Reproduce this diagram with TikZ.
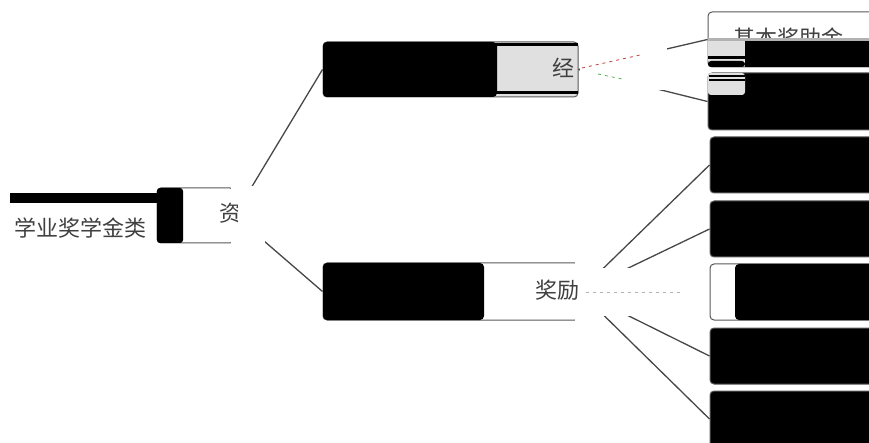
\documentclass[tikz,border=0pt]{standalone}
\usepackage{fontspec}
\newfontfamily\cjk{Noto Sans CJK SC}
\begin{document}
\begin{tikzpicture}[x=1pt,y=-1pt,font=\cjk\fontsize{22}{26}\selectfont]
\tikzset{
  box/.style={draw=gray!70!black, line width=1pt, rounded corners=4pt, fill=white, inner sep=0pt},
  link/.style={draw=black!72, line width=1.3pt},
  txt/.style={text=black!75, inner sep=0pt},
  glitch/.style={draw=red!50!gray, line width=0.8pt, dash pattern=on 3pt off 4pt},
}
\useasboundingbox (0,0) rectangle (869,443);
\clip (0,0) rectangle (869,443);
% nodes (named boxes)
\node[box, minimum width=77pt, minimum height=55pt] (zi) at (195.5,215.5) {};
\node[box, fill=black!12, minimum width=255pt, minimum height=55pt] (c1) at (450.5,69.5) {};
\node[box, minimum width=256pt, minimum height=57pt] (c2) at (451,291.5) {};
\node[box, minimum width=200pt, minimum height=55pt] (a1) at (808,39.5) {};
\node[box, fill=black, minimum width=200pt, minimum height=57pt] (b1) at (808,101.5) {};
\node[box, fill=black, minimum width=200pt, minimum height=56pt] (r1) at (810,165) {};
\node[box, fill=black, minimum width=200pt, minimum height=56pt] (r2) at (810,229) {};
\node[box, minimum width=200pt, minimum height=56pt] (r3) at (810,292) {};
\node[box, fill=black, minimum width=200pt, minimum height=56pt] (r4) at (810,356) {};
\node[box, fill=black, minimum width=200pt, minimum height=56pt] (r5) at (810,419) {};
% connectors
\draw[link] (zi.east) -- (c1.west);
\draw[link] (zi.east) -- (c2.west);
\draw[link] (c1.east) -- (a1.west);
\draw[link] (c1.east) -- (b1.west);
\draw[link] (c2.east) -- (r1.west);
\draw[link] (c2.east) -- (r2.west);
\draw[link] (c2.east) -- (r4.west);
\draw[link] (c2.east) -- (r5.west);
% erased parts
\fill[white] (231,186) rectangle (265,245);
\fill[white] (579.5,47) rectangle (667,90);
\fill[white] (575,268) rectangle (700,316);
\fill[white] (575,262) rectangle (600,321);
\draw[glitch] (582,68) -- (640,55);
\draw[glitch, draw=green!40!gray] (598,74) -- (622,79);
\draw[glitch, draw=gray!60] (586,292) -- (680,292);
% root area
\fill[black] (10,193) rectangle (160,203);
\fill[black, rounded corners=3pt] (157,188) rectangle (183,243);
\node[txt, anchor=center] (root) at (80,228) {学业奖学金类};
\begin{scope}
  \clip (200,190) rectangle (237,240);
  \node[txt] (zit) at (230,213) {资};
\end{scope}
% c1 overlays
\fill[black, rounded corners=4pt] (323,42) rectangle (497,97);
\fill[black] (495,43) rectangle (578,46);
\fill[black] (495,91) rectangle (578,94);
\begin{scope}
  \clip (540,50) rectangle (578,85);
  \node[txt] (jt) at (563,68) {经};
\end{scope}
% c2 overlay
\fill[black, rounded corners=4pt] (323,263) rectangle (484,320);
\node[txt] (jl) at (557,290) {奖励};
% a1 overlays
\node[txt, anchor=west] (a1t) at (733,38) {基本奖助金...};
\fill[black!30] (708,38) rectangle (869,41.5);
\fill[black] (745,41.5) rectangle (869,67);
\fill[black!12] (708,41.5) rectangle (745,56.5);
\fill[black] (708,56.5) rectangle (745,59);
\fill[black!12] (708,59) rectangle (745,61);
\fill[black, rounded corners=3pt] (708,61) rectangle (745,67);
% b1 overlay
\fill[black!12, rounded corners=3pt] (708,73) rectangle (745,95);
\fill[black] (709,75) rectangle (745,77.5);
\fill[black] (709,79.5) rectangle (745,81.5);
% r3 overlay
\fill[black, rounded corners=4pt] (735,264) rectangle (900,320);
\end{tikzpicture}
\end{document}
